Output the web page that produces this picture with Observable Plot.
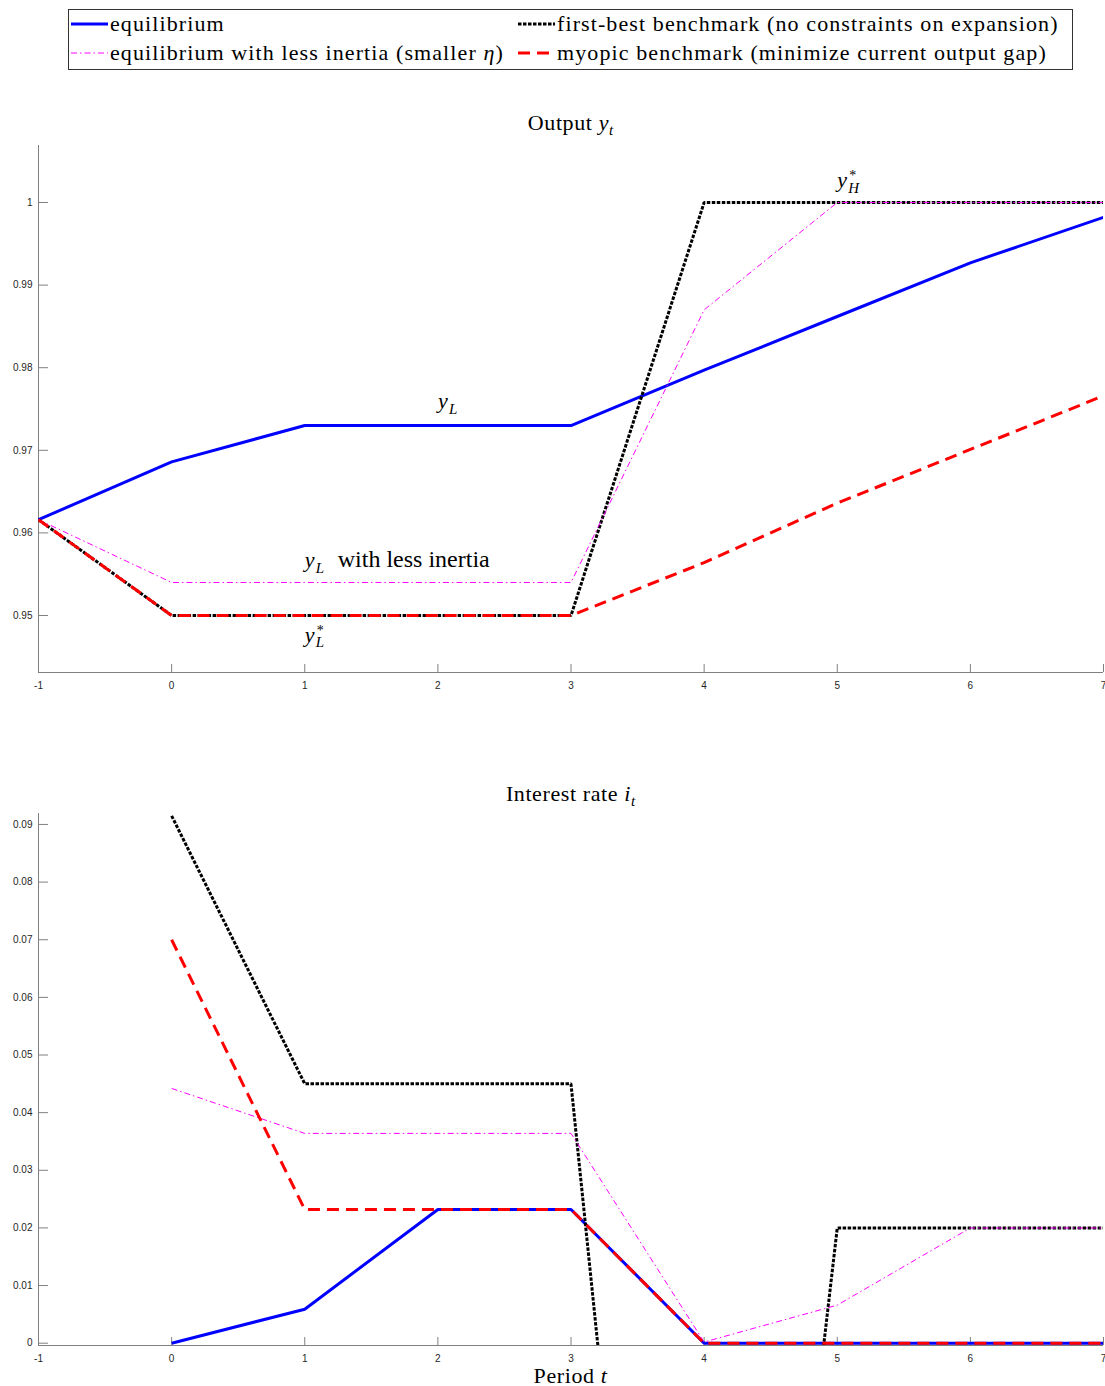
<!DOCTYPE html>
<html><head><meta charset="utf-8">
<script src="https://cdn.jsdelivr.net/npm/d3@7"></script>
<script src="https://cdn.jsdelivr.net/npm/@observablehq/plot@0.6"></script>
<style>
body{margin:0;background:#fff;}
#wrap{position:relative;width:1105px;height:1386px;overflow:hidden;font-family:"Liberation Serif",serif;color:#000;background:#fff;}
.txt{position:absolute;font-size:22px;line-height:22px;white-space:nowrap;letter-spacing:0.6px;}
.legtxt{letter-spacing:1.1px;}
.ctr{text-align:center;}
.sub{font-size:15px;font-style:italic;position:relative;top:5px;letter-spacing:0;}
#legend{position:absolute;left:68px;top:9px;width:1003px;height:59px;border:1px solid #333;background:#fff;}
svg.plot{position:absolute;left:0;}
</style></head><body><div id="wrap"></div><script>
// ---- data ----
const periods = [-1, 0, 1, 2, 3, 4, 5, 6, 7];
const outEquilibrium  = [0.9616, 0.9686, 0.9730, 0.9730, 0.9730, 0.9797, 0.9862, 0.9927, 0.9982];
const outFirstBest    = [0.9616, 0.9500, 0.9500, 0.9500, 0.9500, 1.0000, 1.0000, 1.0000, 1.0000];
const outLessInertia  = [0.9616, 0.9540, 0.9540, 0.9540, 0.9540, 0.9870, 1.0000, 1.0000, 1.0000];
const outMyopic       = [0.9616, 0.9500, 0.9500, 0.9500, 0.9500, 0.9564, 0.9636, 0.9701, 0.9766];
const rateEquilibrium = [null, 0.0000, 0.0059, 0.0232, 0.0232, 0.0000, 0.0000, 0.0000, 0.0000];
const rateFirstBest   = [null, 0.0915, 0.0450, 0.0450, 0.0450, -0.1800, 0.0200, 0.0200, 0.0200];
const rateLessInertia = [null, 0.0442, 0.0364, 0.0364, 0.0364, 0.0002, 0.0066, 0.0200, 0.0200];
const rateMyopic      = [null, 0.0700, 0.0232, 0.0232, 0.0232, 0.0000, 0.0000, 0.0000, 0.0000];
const outTicks  = [0.95, 0.96, 0.97, 0.98, 0.99, 1];
const rateTicks = [0, 0.01, 0.02, 0.03, 0.04, 0.05, 0.06, 0.07, 0.08, 0.09];
const xTicks = [-1, 0, 1, 2, 3, 4, 5, 6, 7];
const seriesNames = ["equilibrium", "first-best benchmark (no constraints on expansion)", "equilibrium with less inertia (smaller η)", "myopic benchmark (minimize current output gap)"];
const seriesColors = ["#0000ff", "#000000", "#ff00ff", "#ff0000"];
const seriesWidths = [3, 3, 1, 3];
const seriesDashes = [null, "3.5,1.5", "6,3,1.5,3", "12,7"];

const axisColor = "#808080", labelColor = "#262626";
const wrap = document.getElementById("wrap");

function table(vals){ return periods.map((t, i) => ({t, v: vals[i]})); }

function panel(valsList, yDomain, yTicks, top, height, marginTop, marginBottom, extra) {
  const marks = [];
  valsList.forEach((vals, k) => {
    marks.push(Plot.line(table(vals), {x: "t", y: "v", stroke: seriesColors[k], strokeWidth: seriesWidths[k],
      strokeDasharray: seriesDashes[k], strokeLinecap: "butt", strokeLinejoin: "miter", clip: true}));
  });
  marks.unshift(
    Plot.ruleX([xTicks[0]], {stroke: axisColor, strokeWidth: 1}),
    Plot.ruleY([yDomain[0]], {stroke: axisColor, strokeWidth: 1}),
    Plot.axisX({ticks: xTicks, tickSize: -8, tickPadding: 17, tickFormat: d => String(d), stroke: axisColor, fill: labelColor, label: null}),
    Plot.axisY({ticks: yTicks, tickSize: -10, tickPadding: 16, tickFormat: d => String(d), stroke: axisColor, fill: labelColor, label: null})
  );
  marks.push(...extra);
  const svg = Plot.plot({
    width: 1105, height, marginLeft: 38, marginRight: 2, marginTop, marginBottom,
    x: {domain: [-1, 7], label: null},
    y: {domain: yDomain, label: null},
    style: {fontFamily: "'Liberation Sans', Arial, sans-serif", fontSize: "10px", background: "transparent", overflow: "visible", color: labelColor},
    marks
  });
  svg.classList.add("plot");
  svg.style.top = top + "px";
  wrap.appendChild(svg);
  return svg;
}

const serif = "'Liberation Serif', serif";
function mathText(data, opts) {
  return Plot.text(data, {x: "t", y: "v", text: "s", fontFamily: serif, fill: "black", lineAnchor: "bottom", textAnchor: "start", ...opts});
}

// top panel annotations (anchored to data points)
const annYL = [{t: 2, v: 0.9730}];
const annYLless = [{t: 1, v: 0.9540}];
const annYLstar = [{t: 1, v: 0.9500}];
const annYHstar = [{t: 5, v: 1.0000}];
const topExtra = [
  mathText(annYL.map(d => ({...d, s: "y"})), {fontSize: 22, fontStyle: "italic", dy: -18}),
  mathText(annYL.map(d => ({...d, s: "L"})), {fontSize: 15, fontStyle: "italic", dx: 11, dy: -12}),
  mathText(annYLless.map(d => ({...d, s: "y"})), {fontSize: 22, fontStyle: "italic", dy: -15}),
  mathText(annYLless.map(d => ({...d, s: "L"})), {fontSize: 15, fontStyle: "italic", dx: 11, dy: -9}),
  mathText(annYLless.map(d => ({...d, s: "with less inertia"})), {fontSize: 24, dx: 33, dy: -15}),
  mathText(annYLstar.map(d => ({...d, s: "y"})), {fontSize: 22, fontStyle: "italic", dy: 26}),
  mathText(annYLstar.map(d => ({...d, s: "*"})), {fontSize: 14, dx: 12, dy: 19}),
  mathText(annYLstar.map(d => ({...d, s: "L"})), {fontSize: 15, fontStyle: "italic", dx: 11, dy: 31}),
  mathText(annYHstar.map(d => ({...d, s: "y"})), {fontSize: 22, fontStyle: "italic", dy: -15}),
  mathText(annYHstar.map(d => ({...d, s: "*"})), {fontSize: 14, dx: 12, dy: -22}),
  mathText(annYHstar.map(d => ({...d, s: "H"})), {fontSize: 15, fontStyle: "italic", dx: 11, dy: -9})
];

panel([outEquilibrium, outFirstBest, outLessInertia, outMyopic], [0.9431, 1.0069], outTicks, 100, 600, 45, 28, topExtra);
panel([rateEquilibrium, rateFirstBest, rateLessInertia, rateMyopic], [-0.0004, 0.0919], rateTicks, 770, 600, 43, 25, []);

// ---- titles & labels ----
function addText(html, left, top, width, cls, lh) {
  const d = document.createElement("div");
  d.className = "txt " + (cls || "");
  d.style.left = left + "px"; d.style.top = top + "px";
  if (width) d.style.width = width + "px";
  if (lh) d.style.lineHeight = lh + "px";
  d.innerHTML = html;
  wrap.appendChild(d);
  return d;
}
addText('Output <i>y</i><span class="sub">t</span>', 38, 111.6, 1065, "ctr");
addText('Interest rate <i>i</i><span class="sub">t</span>', 38, 782.6, 1065, "ctr");
addText('Period <i>t</i>', 38, 1366.5, 1065, "ctr", 18);

// ---- legend ----
const leg = document.createElement("div");
leg.id = "legend";
wrap.appendChild(leg);
const legPos = [[71, 110, 24, 31.5], [518, 557, 24, 31.5], [71, 110, 53, 60.5], [518, 557, 53, 60.5]];
seriesNames.forEach((name, k) => {
  const [sx, tx, ly, base] = legPos[k];
  const s = document.createElementNS("http://www.w3.org/2000/svg", "svg");
  s.setAttribute("width", 37); s.setAttribute("height", 10);
  s.style.position = "absolute"; s.style.left = sx + "px"; s.style.top = (ly - 5) + "px";
  const ln = document.createElementNS("http://www.w3.org/2000/svg", "line");
  ln.setAttribute("x1", 0); ln.setAttribute("x2", 37); ln.setAttribute("y1", 5); ln.setAttribute("y2", 5);
  ln.setAttribute("stroke", seriesColors[k]); ln.setAttribute("stroke-width", seriesWidths[k]);
  if (seriesDashes[k]) ln.setAttribute("stroke-dasharray", seriesDashes[k]);
  s.appendChild(ln);
  wrap.appendChild(s);
  const html = name.replace("η", "<i>η</i>");
  addText(html, tx, base - 18.4, 0, "legtxt");
});
</script></body></html>
